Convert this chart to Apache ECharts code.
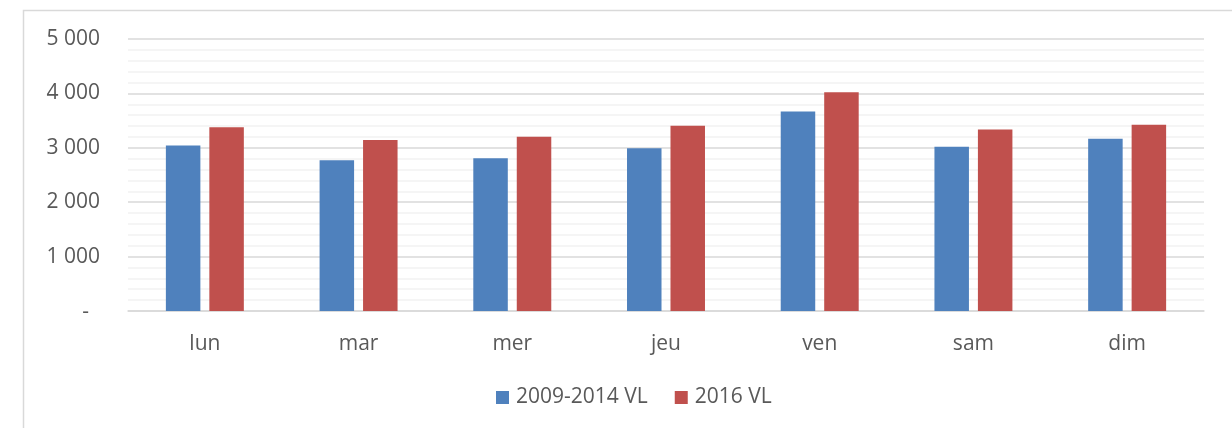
<!DOCTYPE html>
<html>
<head>
<meta charset="utf-8">
<script src="https://cdn.jsdelivr.net/npm/echarts@6/dist/echarts.min.js"></script>
<style>
  html, body { margin: 0; padding: 0; background: #fff; }
  #chart { width: 1232px; height: 428px; }
</style>
</head>
<body>
<div id="chart"></div>
<script>
// Days of the week
const categories = ['lun', 'mar', 'mer', 'jeu', 'ven', 'sam', 'dim'];
// Average daily volumes per weekday
const seriesNames = ['2009-2014 VL', '2016 VL'];
const values2009_2014 = [3040, 2770, 2810, 2990, 3665, 3020, 3165];
const values2016 = [3380, 3145, 3205, 3405, 4020, 3335, 3425];
// Value axis range
const yMin = 0;
const yMax = 5000;
const yStep = 1000;
const yMinorStep = 200;

const FONT = '"Open Sans", "Liberation Sans", sans-serif';
const TEXT = '#595959';

const chart = echarts.init(document.getElementById('chart'), null, { renderer: 'canvas' });

function fmtThousands(v) {
  if (v === 0) return '{z|-}';
  return String(v).replace(/\B(?=(\d{3})+(?!\d))/g, ' ');
}

chart.setOption({
  animation: false,
  backgroundColor: '#fff',
  graphic: [{
    type: 'rect',
    shape: { x: 23.5, y: 10.5, width: 1400, height: 600 },
    style: { fill: 'none', stroke: '#d9d9d9', lineWidth: 1.5 },
    silent: true, z: -1
  }],
  grid: { left: 128, right: 28, top: 39, bottom: 117 },
  legend: {
    data: seriesNames,
    left: 496,
    top: 387,
    padding: 0,
    itemWidth: 13,
    itemHeight: 13,
    itemGap: 27,
    icon: 'rect',
    textStyle: { fontFamily: FONT, fontSize: 21, color: TEXT, padding: [0, 0, 0, 2] }
  },
  xAxis: {
    type: 'category',
    data: categories,
    axisLine: { show: true, lineStyle: { color: '#d9d9d9', width: 1.5 } },
    axisTick: { show: false },
    axisLabel: { fontFamily: FONT, fontSize: 21, color: TEXT, margin: 23 }
  },
  yAxis: {
    type: 'value',
    min: yMin,
    max: yMax,
    interval: yStep,
    minorTick: { show: false, splitNumber: yStep / yMinorStep },
    minorSplitLine: { show: true, lineStyle: { color: '#f2f2f2', width: 1.5 } },
    splitLine: { show: true, lineStyle: { color: '#d9d9d9', width: 1.5 } },
    axisLine: { show: false },
    axisTick: { show: false },
    axisLabel: {
      fontFamily: FONT, fontSize: 21, color: TEXT, margin: 28,
      formatter: fmtThousands,
      rich: { z: { fontFamily: FONT, fontSize: 21, color: TEXT, padding: [2, 11, 0, 0] } }
    }
  },
  series: [
    {
      name: seriesNames[0], type: 'bar', data: values2009_2014,
      barWidth: 34.5, barGap: '26%',
      itemStyle: { color: '#4f81bd' }
    },
    {
      name: seriesNames[1], type: 'bar', data: values2016,
      barWidth: 34.5, barGap: '26%',
      itemStyle: { color: '#c0504d' }
    }
  ]
});
</script>
</body>
</html>
